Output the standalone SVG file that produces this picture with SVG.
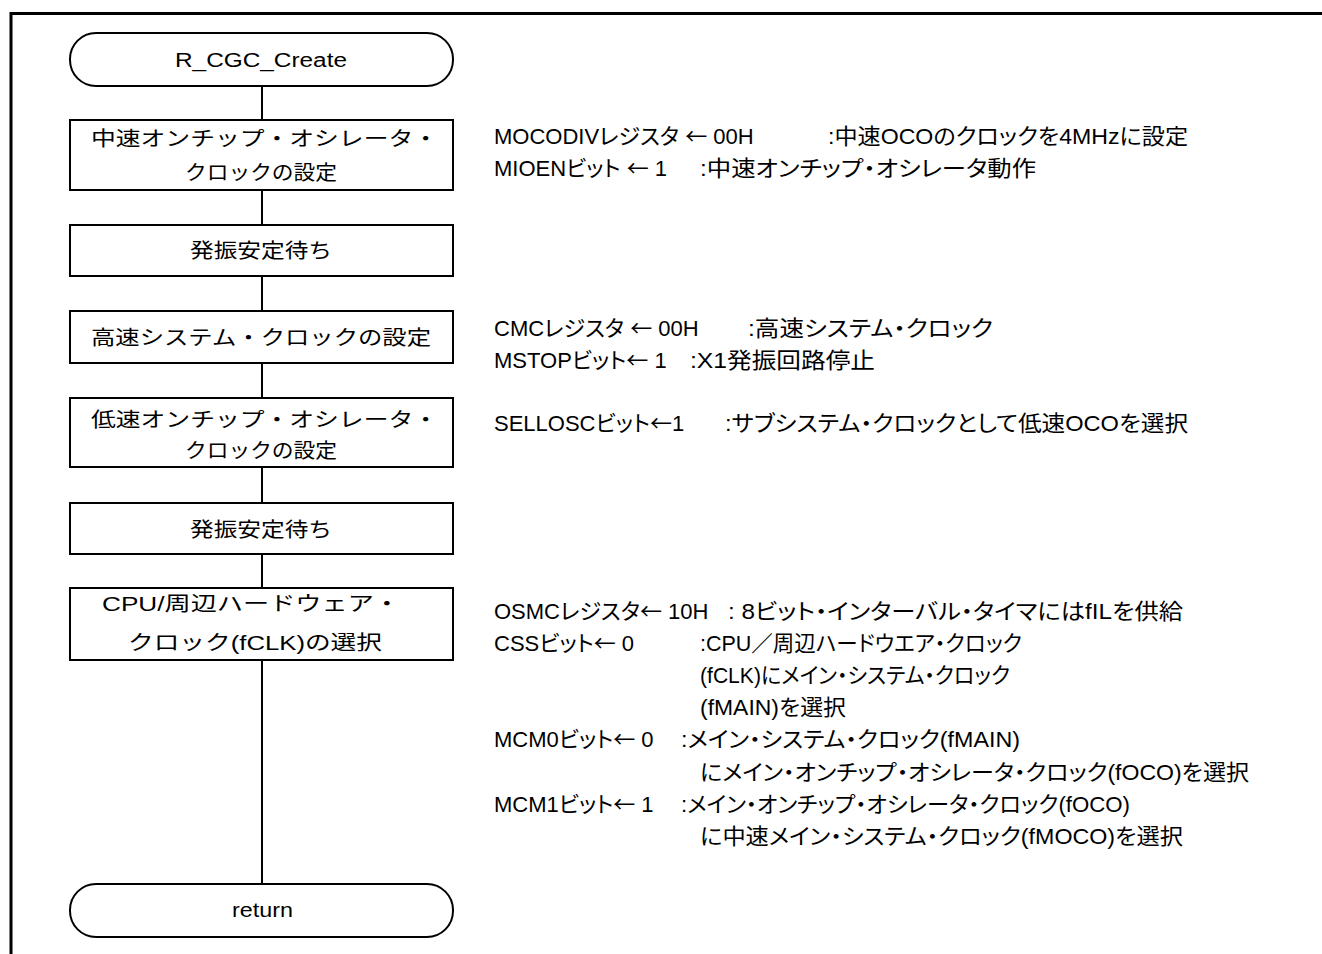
<svg xmlns="http://www.w3.org/2000/svg" width="1322" height="954" viewBox="0 0 1322 954">
<style>
text{font-family:"Liberation Sans","Noto Sans CJK JP",sans-serif;fill:#000}
.bt{font-size:20px}
.dt{font-size:22px;font-feature-settings:"palt"}
.ar{font-family:"Noto Sans CJK JP",sans-serif}
.box{fill:#fff;stroke:#000;stroke-width:2}
.conn{stroke:#000;stroke-width:2;fill:none}
.frame{stroke:#000;stroke-width:3;fill:none}
</style>
<rect width="1322" height="954" fill="#fff"/>
<path class="frame" d="M11,954 V13.5 H1322"/>
<g id="connectors">
<line class="conn" x1="262" y1="86" x2="262" y2="884"/>
</g>
<g id="start">
<rect class="box" x="70" y="33" width="383" height="53" rx="26" ry="26"/>
<text class="bt" x="175" y="67" textLength="172" lengthAdjust="spacingAndGlyphs">R_CGC_Create</text>
</g>
<g id="n1">
<rect class="box" x="70" y="120" width="383" height="70"/>
<text class="bt" x="91" y="146" textLength="347" lengthAdjust="spacingAndGlyphs">中速オンチップ・オシレータ・</text>
<text class="bt" x="185" y="180" textLength="152" lengthAdjust="spacingAndGlyphs">クロックの設定</text>
</g>
<g id="n2">
<rect class="box" x="70" y="225" width="383" height="51"/>
<text class="bt" x="190" y="258" textLength="142" lengthAdjust="spacingAndGlyphs">発振安定待ち</text>
</g>
<g id="n3">
<rect class="box" x="70" y="311" width="383" height="52"/>
<text class="bt" x="91" y="345" textLength="340" lengthAdjust="spacingAndGlyphs">高速システム・クロックの設定</text>
</g>
<g id="n4">
<rect class="box" x="70" y="398" width="383" height="69"/>
<text class="bt" x="91" y="427" textLength="347" lengthAdjust="spacingAndGlyphs">低速オンチップ・オシレータ・</text>
<text class="bt" x="185" y="458" textLength="152" lengthAdjust="spacingAndGlyphs">クロックの設定</text>
</g>
<g id="n5">
<rect class="box" x="70" y="503" width="383" height="51"/>
<text class="bt" x="190" y="537" textLength="142" lengthAdjust="spacingAndGlyphs">発振安定待ち</text>
</g>
<g id="n6">
<rect class="box" x="70" y="588" width="383" height="72"/>
<text class="bt" x="102" y="611" textLength="298" lengthAdjust="spacingAndGlyphs">CPU/周辺ハードウェア・</text>
<text class="bt" x="128" y="650" textLength="254" lengthAdjust="spacingAndGlyphs">クロック(fCLK)の選択</text>
</g>
<g id="end">
<rect class="box" x="70" y="884" width="383" height="53" rx="26" ry="26"/>
<text class="bt" x="232" y="917" textLength="61" lengthAdjust="spacingAndGlyphs">return</text>
</g>
<g id="notes">
<text class="dt" x="494" y="144">MOCODIVレジスタ <tspan class="ar">←</tspan> 00H</text>
<text class="dt" x="828" y="144" textLength="360" lengthAdjust="spacingAndGlyphs">:中速OCOのクロックを4MHzに設定</text>
<text class="dt" x="494" y="176">MIOENビット <tspan class="ar">←</tspan> 1</text>
<text class="dt" x="700" y="176" textLength="336" lengthAdjust="spacingAndGlyphs">:中速オンチップ・オシレータ動作</text>
<text class="dt" x="494" y="336">CMCレジスタ <tspan class="ar">←</tspan> 00H</text>
<text class="dt" x="748" y="336" textLength="245" lengthAdjust="spacingAndGlyphs">:高速システム・クロック</text>
<text class="dt" x="494" y="368">MSTOPビット<tspan class="ar">←</tspan> 1</text>
<text class="dt" x="690" y="368" textLength="185" lengthAdjust="spacingAndGlyphs">:X1発振回路停止</text>
<text class="dt" x="494" y="431">SELLOSCビット<tspan class="ar">←</tspan>1</text>
<text class="dt" x="725" y="431" textLength="463" lengthAdjust="spacingAndGlyphs">:サブシステム・クロックとして低速OCOを選択</text>
<text class="dt" x="494" y="619">OSMCレジスタ<tspan class="ar">←</tspan> 10H</text>
<text class="dt" x="728" y="619" textLength="455" lengthAdjust="spacingAndGlyphs">: 8ビット・インターバル・タイマにはfILを供給</text>
<text class="dt" x="494" y="651">CSSビット<tspan class="ar">←</tspan> 0</text>
<text class="dt" x="700" y="651" textLength="322" lengthAdjust="spacingAndGlyphs">:CPU／周辺ハードウエア・クロック</text>
<text class="dt" x="700" y="683" textLength="310" lengthAdjust="spacingAndGlyphs">(fCLK)にメイン・システム・クロック</text>
<text class="dt" x="700" y="715" textLength="146" lengthAdjust="spacingAndGlyphs">(fMAIN)を選択</text>
<text class="dt" x="494" y="747">MCM0ビット<tspan class="ar">←</tspan> 0</text>
<text class="dt" x="681" y="747" textLength="339" lengthAdjust="spacingAndGlyphs">:メイン・システム・クロック(fMAIN)</text>
<text class="dt" x="700" y="780" textLength="549" lengthAdjust="spacingAndGlyphs">にメイン・オンチップ・オシレータ・クロック(fOCO)を選択</text>
<text class="dt" x="494" y="812">MCM1ビット<tspan class="ar">←</tspan> 1</text>
<text class="dt" x="681" y="812" textLength="449" lengthAdjust="spacingAndGlyphs">:メイン・オンチップ・オシレータ・クロック(fOCO)</text>
<text class="dt" x="700" y="844" textLength="483" lengthAdjust="spacingAndGlyphs">に中速メイン・システム・クロック(fMOCO)を選択</text>
</g>
</svg>
